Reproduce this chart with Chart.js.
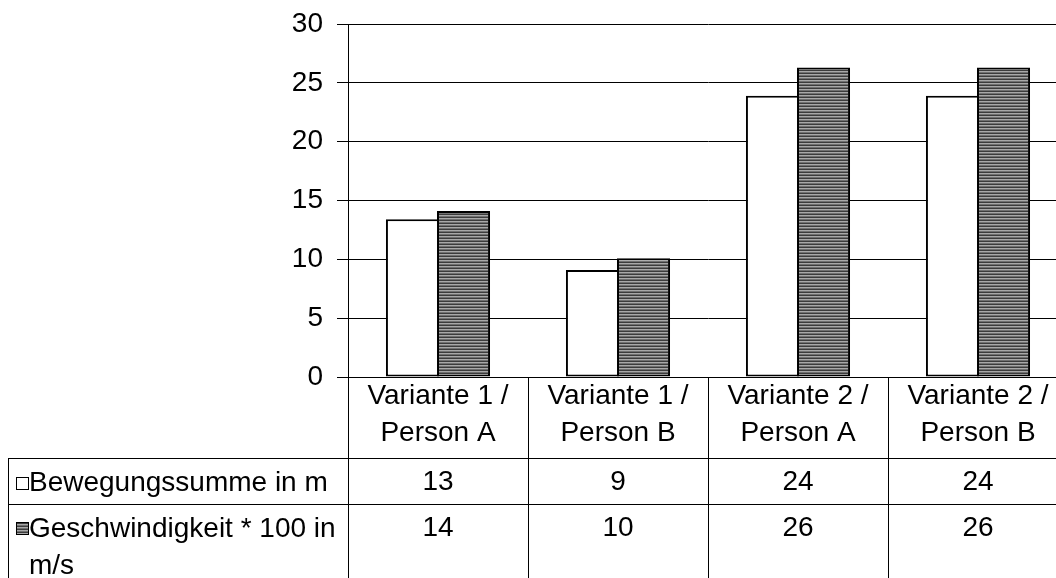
<!DOCTYPE html>
<html>
<head>
<meta charset="utf-8">
<script src="https://cdn.jsdelivr.net/npm/chart.js@4/dist/chart.umd.min.js"></script>
<style>
  html, body { margin: 0; padding: 0; background: #fff; overflow: hidden; }
  #wrap { width: 1068px; height: 598px; margin-top: -20px; }
  canvas { display: block; }
</style>
</head>
<body>
<div id="wrap"><canvas id="chart" width="1068" height="598"></canvas></div>
<script>
const categories = [
  ["Variante 1 /", "Person A"],
  ["Variante 1 /", "Person B"],
  ["Variante 2 /", "Person A"],
  ["Variante 2 /", "Person B"],
];
const seriesNames = [["Bewegungssumme in m"], ["Geschwindigkeit * 100 in", "m/s"]];
const bewegung = [13.4, 9.1, 23.9, 23.9];
const geschwindigkeit = [14.1, 10.1, 26.3, 26.3];
const tableRow1 = ["13", "9", "24", "24"];
const tableRow2 = ["14", "10", "26", "26"];

const FAMILY = "'Liberation Sans', Arial, sans-serif";
const FONT = "28px " + FAMILY;
const OFF = 20; // canvas is pulled up by this much

// striped fill like the original hatch
function stripes() {
  const c = document.createElement("canvas");
  c.width = 4;
  c.height = 3;
  const g = c.getContext("2d");
  g.fillStyle = "#a8a8a8";
  g.fillRect(0, 0, 4, 3);
  g.fillStyle = "#3c3c3c";
  g.fillRect(0, 0, 4, 1);
  g.fillStyle = "#707070";
  g.fillRect(0, 2, 4, 1);
  return g.createPattern(c, "repeat");
}
const stripeFill = stripes();

const tablePlugin = {
  id: "table",
  afterDraw(chart) {
    const ctx = chart.ctx;
    const x = chart.scales.x;
    const area = chart.chartArea;
    const W = chart.width, H = chart.height;
    const half = (x.getPixelForValue(1) - x.getPixelForValue(0)) / 2;
    const row1 = 458 + OFF, row2 = 504 + OFF, tableLeft = 8;

    ctx.save();
    ctx.strokeStyle = "#000";
    ctx.lineWidth = 1;
    ctx.beginPath();
    for (let i = 0; i < categories.length; i++) {
      const bx = Math.round(x.getPixelForValue(i) - half) + 0.5;
      ctx.moveTo(bx, area.bottom);
      ctx.lineTo(bx, H);
    }
    ctx.moveTo(tableLeft, row1 + 0.5);
    ctx.lineTo(W, row1 + 0.5);
    ctx.moveTo(tableLeft, row2 + 0.5);
    ctx.lineTo(W, row2 + 0.5);
    ctx.moveTo(tableLeft + 0.5, row1);
    ctx.lineTo(tableLeft + 0.5, H);
    ctx.stroke();

    ctx.fillStyle = "#000";
    ctx.font = FONT;
    ctx.textAlign = "center";
    ctx.textBaseline = "middle";
    categories.forEach((lines, i) => {
      const cx = x.getPixelForValue(i);
      ctx.fillText(lines[0], cx, 396 + OFF);
      ctx.fillText(lines[1], cx, 433 + OFF);
      ctx.fillText(tableRow1[i], cx, 482 + OFF);
      ctx.fillText(tableRow2[i], cx, 528 + OFF);
    });

    // legend keys + names
    ctx.textAlign = "left";
    ctx.fillStyle = "#fff";
    ctx.fillRect(16, 477 + OFF, 12, 12);
    ctx.strokeRect(16.5, 477.5 + OFF, 12, 12);
    ctx.fillStyle = stripeFill;
    ctx.fillRect(16, 522 + OFF, 12, 12);
    ctx.strokeRect(16.5, 522.5 + OFF, 12, 12);
    ctx.fillStyle = "#000";
    ctx.fillText(seriesNames[0][0], 29, 483 + OFF);
    ctx.fillText(seriesNames[1][0], 29, 529 + OFF);
    ctx.fillText(seriesNames[1][1], 29, 566 + OFF);
    ctx.restore();
  },
};

const ctx = document.getElementById("chart").getContext("2d");
const chart = new Chart(ctx, {
  type: "bar",
  data: {
    labels: categories,
    datasets: [
      {
        label: seriesNames[0].join(" "),
        data: bewegung,
        backgroundColor: "#fff",
        borderColor: "#000",
        borderWidth: 2,
        borderSkipped: false,
      },
      {
        label: seriesNames[1].join(" "),
        data: geschwindigkeit,
        backgroundColor: stripeFill,
        borderColor: "#000",
        borderWidth: 2,
        borderSkipped: false,
      },
    ],
  },
  options: {
    responsive: false,
    animation: false,
    devicePixelRatio: 1,
    layout: { padding: { top: 24 + OFF, left: 0, right: 0, bottom: 0 } },
    datasets: { bar: { categoryPercentage: 0.567, barPercentage: 1.04 } },
    plugins: {
      legend: { display: false },
      tooltip: { enabled: false },
    },
    scales: {
      x: {
        grid: { display: false },
        border: { display: false },
        ticks: { display: false },
        afterFit(scale) { scale.height = 201; },
      },
      y: {
        min: 0,
        max: 30,
        ticks: {
          stepSize: 5,
          color: "#000",
          padding: 14,
          font: { family: FAMILY, size: 28 },
        },
        grid: { color: "#000", lineWidth: 1, tickLength: 11 },
        border: { display: true, color: "#000", width: 1 },
        afterFit(scale) { scale.width = 348; },
      },
    },
  },
  plugins: [tablePlugin],
});
// pin the 30 gridline to y = 24 on screen
for (let k = 0; k < 3; k++) {
  const diff = Math.round(chart.scales.y.getPixelForValue(30)) - (24 + OFF);
  if (diff === 0) break;
  chart.options.layout.padding.top -= diff;
  chart.update();
}
</script>
</body>
</html>
